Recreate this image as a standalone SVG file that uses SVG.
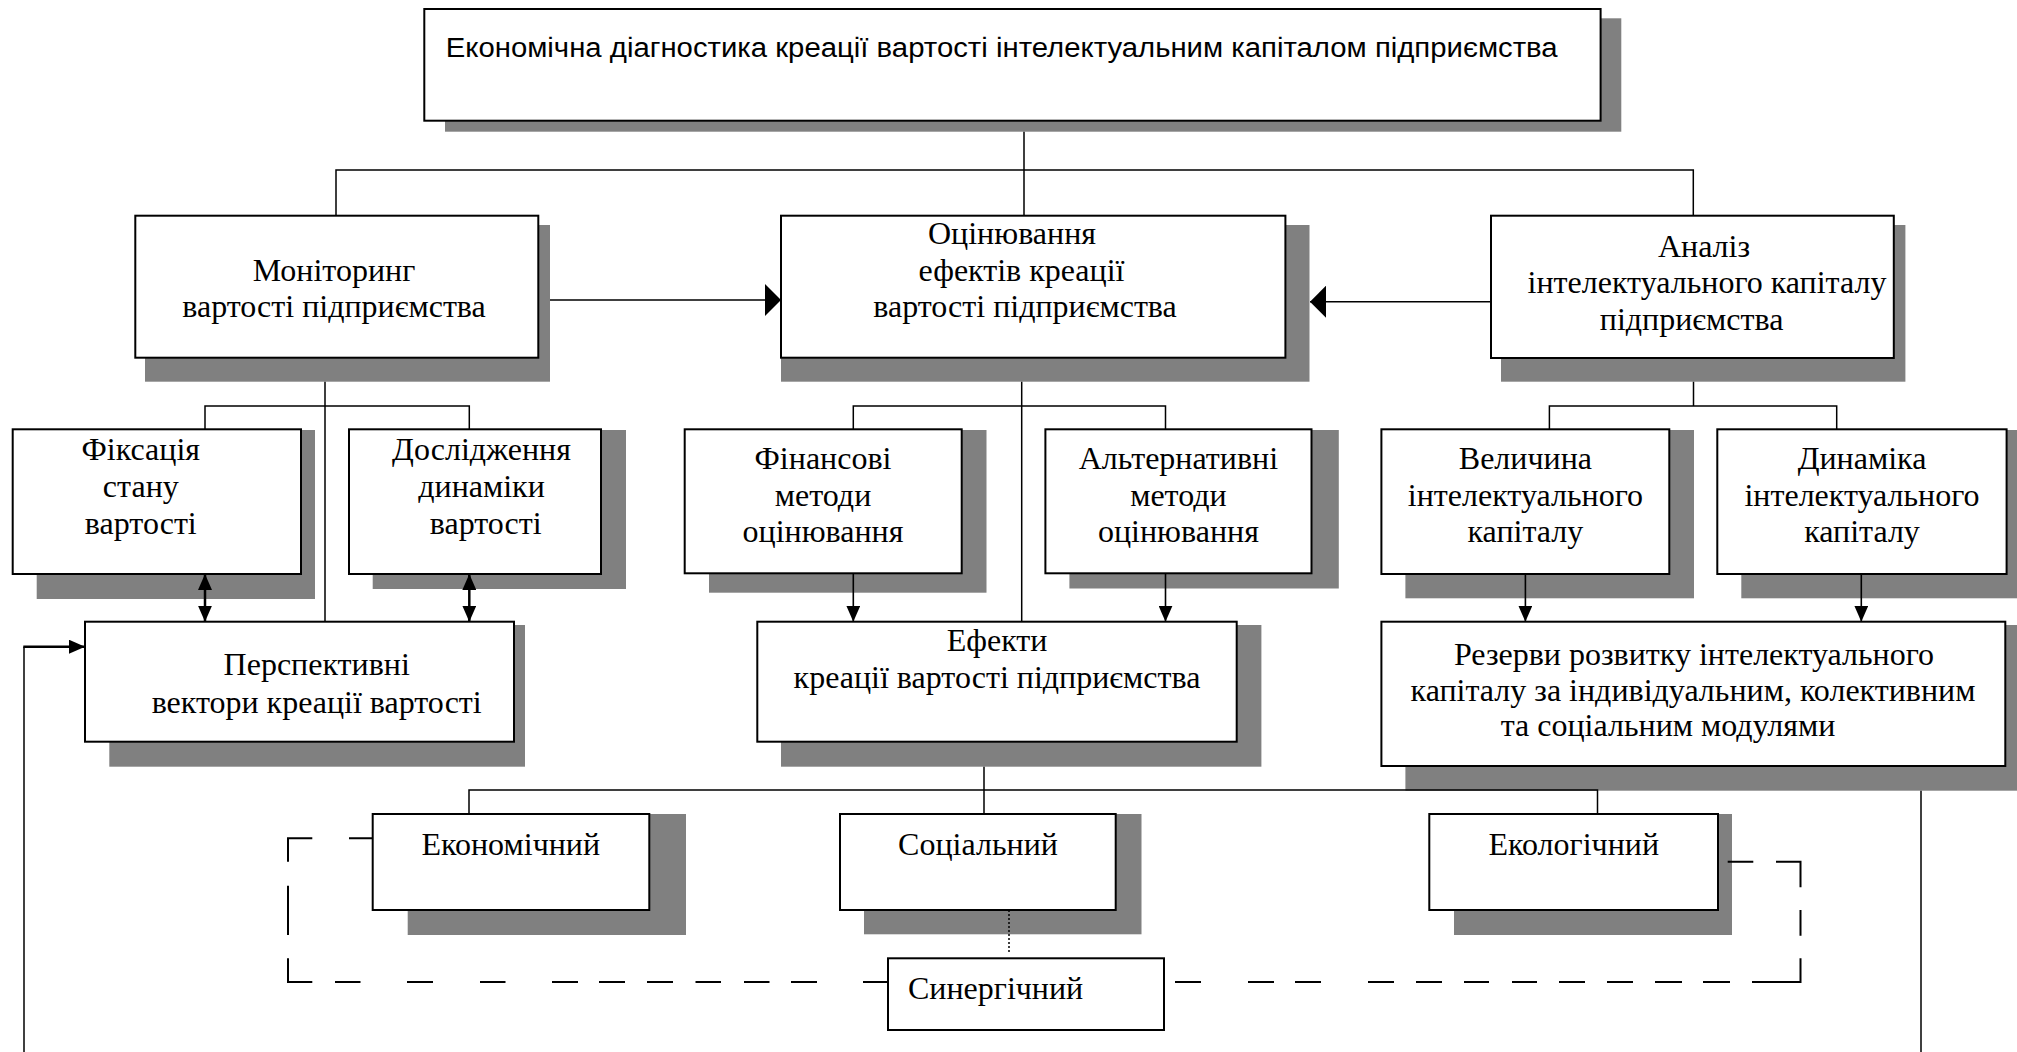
<svg xmlns="http://www.w3.org/2000/svg" width="2017" height="1052" viewBox="0 0 2017 1052">
<style>
.sh{fill:#808080}
.bx{fill:#fff;stroke:#000;stroke-width:2}
.t{font-family:"Liberation Serif","Times New Roman",serif;font-size:32px;text-anchor:middle;fill:#000}
.ta{font-family:"Liberation Sans",Arial,sans-serif;font-size:27px;fill:#000}
.ln{fill:none;stroke:#000;stroke-width:1.5}
.ar{fill:none;stroke:#000;stroke-width:1.6}
.dbl{fill:none;stroke:#000;stroke-width:2.5}
.dash{fill:none;stroke:#000;stroke-width:2}
.dot{fill:none;stroke:#000;stroke-width:1.5;stroke-dasharray:2 2}
</style>
<defs>
<marker id="ah" viewBox="0 0 16 14" refX="16" refY="7" markerWidth="16" markerHeight="14" markerUnits="userSpaceOnUse" orient="auto-start-reverse"><path d="M0,0 L16,7 L0,14 Z" fill="#000"/></marker>
<marker id="ahb" viewBox="0 0 16 32" refX="16" refY="16" markerWidth="16" markerHeight="32" markerUnits="userSpaceOnUse" orient="auto"><path d="M0,0 L16,16 L0,32 Z" fill="#000"/></marker>
</defs>
<rect width="2017" height="1052" fill="#fff"/>

<g id="n-top">
<rect class="sh" x="445" y="18.3" width="1176.3" height="113.4"/>
<rect class="bx" x="424.3" y="9" width="1176.3" height="111.7"/>
<text class="ta" x="445.7" y="56.7" textLength="1112" lengthAdjust="spacingAndGlyphs">Економічна діагностика креації вартості інтелектуальним капіталом підприємства</text>
</g>

<g id="n-monitoring">
<rect class="sh" x="145" y="225" width="405" height="156.7"/>
<rect class="bx" x="135.3" y="215.7" width="403" height="142"/>
<text class="t" x="334" y="281">Моніторинг</text>
<text class="t" x="334" y="317">вартості підприємства</text>
</g>

<g id="n-evaluation">
<rect class="sh" x="781" y="225" width="528.5" height="156.7"/>
<rect class="bx" x="781" y="215.7" width="504.4" height="142"/>
<text class="t" x="1012" y="244">Оцінювання</text>
<text class="t" x="1021.5" y="280.5">ефектів креації</text>
<text class="t" x="1025" y="317">вартості підприємства</text>
</g>

<g id="n-analysis">
<rect class="sh" x="1501" y="225" width="404.4" height="156.7"/>
<rect class="bx" x="1491" y="215.7" width="402.8" height="142.3"/>
<text class="t" x="1704" y="256.7">Аналіз</text>
<text class="t" x="1707" y="293.3">інтелектуального капіталу</text>
<text class="t" x="1691.6" y="330">підприємства</text>
</g>

<g id="n-fixation">
<rect class="sh" x="36.7" y="430" width="278.3" height="169"/>
<rect class="bx" x="12.7" y="429.3" width="288.3" height="144.7"/>
<text class="t" x="140.8" y="459.5">Фіксація</text>
<text class="t" x="140.8" y="496.5">стану</text>
<text class="t" x="140.8" y="533.5">вартості</text>
</g>

<g id="n-research">
<rect class="sh" x="372.7" y="430" width="253.3" height="159"/>
<rect class="bx" x="349" y="429.3" width="252" height="144.7"/>
<text class="t" x="481.5" y="459.5">Дослідження</text>
<text class="t" x="481.5" y="496.5">динаміки</text>
<text class="t" x="485.7" y="533.5">вартості</text>
</g>

<g id="n-perspective">
<rect class="sh" x="109.3" y="625" width="415.7" height="141.7"/>
<rect class="bx" x="85" y="621.7" width="429" height="120"/>
<text class="t" x="316.7" y="675">Перспективні</text>
<text class="t" x="316.7" y="712.5">вектори креації вартості</text>
</g>

<g id="n-financial">
<rect class="sh" x="709" y="430" width="277.5" height="162.7"/>
<rect class="bx" x="684.7" y="429.3" width="277" height="144"/>
<text class="t" x="823" y="469">Фінансові</text>
<text class="t" x="823" y="505.5">методи</text>
<text class="t" x="823" y="542">оцінювання</text>
</g>

<g id="n-alternative">
<rect class="sh" x="1069.4" y="430" width="269.4" height="158.5"/>
<rect class="bx" x="1045.4" y="429.3" width="266.1" height="144"/>
<text class="t" x="1178.4" y="469">Альтернативні</text>
<text class="t" x="1178.4" y="505.5">методи</text>
<text class="t" x="1178.4" y="542">оцінювання</text>
</g>

<g id="n-effects">
<rect class="sh" x="781" y="625" width="480.4" height="141.7"/>
<rect class="bx" x="757.3" y="621.7" width="479.4" height="120"/>
<text class="t" x="997" y="650.7">Ефекти</text>
<text class="t" x="997" y="688.3">креації вартості підприємства</text>
</g>

<g id="n-size">
<rect class="sh" x="1405.4" y="430" width="288.6" height="168.3"/>
<rect class="bx" x="1381.4" y="429.3" width="287.9" height="144.7"/>
<text class="t" x="1525.4" y="469">Величина</text>
<text class="t" x="1525.4" y="505.5">інтелектуального</text>
<text class="t" x="1525.4" y="542">капіталу</text>
</g>

<g id="n-dynamics">
<rect class="sh" x="1741.3" y="430" width="280" height="168.3"/>
<rect class="bx" x="1717.3" y="429.3" width="289.3" height="144.7"/>
<text class="t" x="1862" y="469">Динаміка</text>
<text class="t" x="1862" y="505.5">інтелектуального</text>
<text class="t" x="1862" y="542">капіталу</text>
</g>

<g id="n-reserves">
<rect class="sh" x="1405.4" y="625" width="615" height="165.7"/>
<rect class="bx" x="1381.4" y="621.7" width="623.9" height="144.3"/>
<text class="t" x="1694" y="665">Резерви розвитку інтелектуального</text>
<text class="t" x="1693" y="700.5">капіталу за індивідуальним, колективним</text>
<text class="t" x="1668" y="736">та соціальним модулями</text>
</g>

<g id="n-economic">
<rect class="sh" x="407.7" y="814" width="278.3" height="121"/>
<rect class="bx" x="372.7" y="814" width="276.6" height="96"/>
<text class="t" x="510.8" y="855">Економічний</text>
</g>

<g id="n-social">
<rect class="sh" x="864" y="814" width="277.5" height="120.3"/>
<rect class="bx" x="840" y="814" width="275.7" height="96"/>
<text class="t" x="978" y="855">Соціальний</text>
</g>

<g id="n-ecological">
<rect class="sh" x="1454" y="814" width="278" height="121"/>
<rect class="bx" x="1429.3" y="814" width="288.7" height="96"/>
<text class="t" x="1573.8" y="855">Екологічний</text>
</g>

<g id="n-synergy">
<rect class="bx" x="888" y="958.3" width="276" height="71.7"/>
<text class="t" x="995.6" y="999">Синергічний</text>
</g>

<g id="connectors">
<path class="ln" d="M1024,131.7 V215.7 M336,215.7 V170 H1693.3 V215.7"/>
<path class="ln" d="M325,381.7 V621.7 M205,429.3 V406 H469.3 V429.3"/>
<path class="ln" d="M1021.7,381.7 V621.7 M853.3,429.3 V406 H1165.5 V429.3"/>
<path class="ln" d="M1693.5,381.7 V406 M1549.4,429.3 V406 H1836.7 V429.3"/>
<path class="ln" d="M984,766.7 V814 M469,814 V790 H1597.5 V814"/>
<path class="ar" d="M550,300 H781" marker-end="url(#ahb)"/>
<path class="ar" d="M1491,301.7 H1310" marker-end="url(#ahb)"/>
<path class="ar" d="M853.3,573.3 V621.7" marker-end="url(#ah)"/>
<path class="ar" d="M1165.5,573.3 V621.7" marker-end="url(#ah)"/>
<path class="ar" d="M1525.4,574 V621.7" marker-end="url(#ah)"/>
<path class="ar" d="M1861.3,574 V621.7" marker-end="url(#ah)"/>
<path class="dbl" d="M205,574 V621.7" marker-start="url(#ah)" marker-end="url(#ah)"/>
<path class="dbl" d="M469.3,574 V621.7" marker-start="url(#ah)" marker-end="url(#ah)"/>
<path class="ln" d="M24,1052 V646.7"/>
<path class="dbl" d="M23.3,646.7 H85" marker-end="url(#ah)"/>
<path class="ln" d="M1921,790.7 V1052"/>
<path class="dot" d="M1009,910 V952"/>
<path class="dash" d="M349,838.3 H372.7 M312.3,838.3 H288 V861.7 M288,885.7 V935 M288,958.3 V982 H312.3 M335,982 H360.5 M407,982 H433 M480,982 H505.5 M552,982 H578 M599,982 H625 M647,982 H673 M695.5,982 H721 M744,982 H769.5 M791,982 H817 M863,982 H888"/>
<path class="dash" d="M1175,982 H1201 M1248,982 H1274 M1295,982 H1321 M1368,982 H1394 M1416,982 H1442 M1464,982 H1489 M1512,982 H1537 M1559,982 H1585 M1607,982 H1633 M1655,982 H1682 M1703,982 H1730 M1752,982 H1800.5 V958.3 M1800.5,935.7 V910 M1800.5,887.3 V861.7 H1776 M1753.3,861.7 H1727.7"/>
</g>
</svg>
